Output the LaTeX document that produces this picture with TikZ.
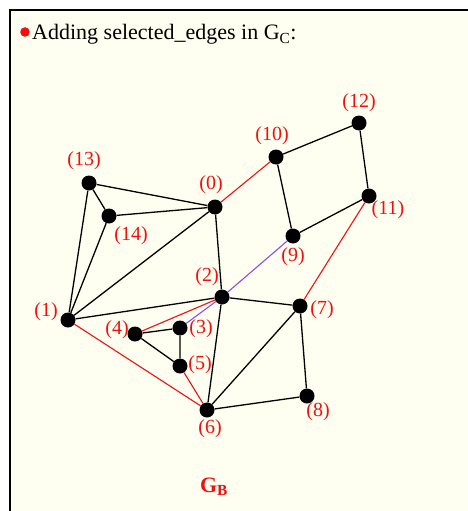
\documentclass[tikz,border=0pt]{standalone}
\usepackage{fontspec}
\setmainfont{Liberation Serif}
\usetikzlibrary{positioning}
\definecolor{PanelFill}{HTML}{FEFFF0}
\definecolor{LabRed}{HTML}{F01010}
\definecolor{EdgePurple}{HTML}{8A4DF0}
\tikzset{
  vdot/.style={circle,fill=black,inner sep=0pt,minimum size=15pt},
  vlabel/.style={text=LabRed,font=\fontsize{20}{20}\selectfont,inner sep=1pt},
  plainedge/.style={line width=1.3pt,draw=black},
  rededge/.style={line width=1.1pt,draw=LabRed},
  violetedge/.style={line width=1.1pt,draw=EdgePurple}
}
\begin{document}
\begin{tikzpicture}[x=1pt,y=-1pt]
\useasboundingbox (0,0) rectangle (468,511);
% panel
\draw[line width=2pt,fill=PanelFill] (10,10) rectangle (480,530);
\fill[LabRed] (25,32) circle (4.8);
\node[anchor=base west,inner sep=0pt,font=\fontsize{22}{22}\selectfont] (title) at (32,40) {Adding selected\_edges in G\textsubscript{C}:};

% vertices
\node[vdot] (v0) at (215,207) {};
\node[vdot] (v1) at (68,320) {};
\node[vdot] (v2) at (222,297) {};
\node[vdot] (v3) at (180,328) {};
\node[vdot] (v4) at (135,334) {};
\node[vdot] (v5) at (180,366) {};
\node[vdot] (v6) at (207,410) {};
\node[vdot] (v7) at (300,306) {};
\node[vdot] (v8) at (307,396) {};
\node[vdot] (v9) at (293,236) {};
\node[vdot] (v10) at (276,157) {};
\node[vdot] (v11) at (369,196) {};
\node[vdot] (v12) at (359,123) {};
\node[vdot] (v13) at (89,183) {};
\node[vdot] (v14) at (109,216) {};

% labels
\node[vlabel] (l0) at (211,185) {(0)};
\node[vlabel] (l1) at (46,312) {(1)};
\node[vlabel] (l2) at (207,277) {(2)};
\node[vlabel] (l3) at (201,329) {(3)};
\node[vlabel] (l4) at (117,330) {(4)};
\node[vlabel] (l5) at (200,365) {(5)};
\node[vlabel] (l6) at (210,429) {(6)};
\node[vlabel] (l7) at (322,310) {(7)};
\node[vlabel] (l8) at (318,412) {(8)};
\node[vlabel] (l9) at (293,257) {(9)};
\node[vlabel] (l10) at (272,136) {(10)};
\node[vlabel] (l11) at (388,210) {(11)};
\node[vlabel] (l12) at (359,103) {(12)};
\node[vlabel] (l13) at (84,161) {(13)};
\node[vlabel] (l14) at (131,236) {(14)};

% edges of G_B
\draw[plainedge] (v13) -- (v0) (v13) -- (v14) (v13) -- (v1) (v14) -- (v0)
  (v14) -- (v1) (v0) -- (v1) (v0) -- (v2) (v1) -- (v2);
\draw[plainedge] (v10) -- (v12) (v12) -- (v11) (v10) -- (v9) (v9) -- (v11);
\draw[plainedge] (v2) -- (v7) (v2) -- (v6) (v7) -- (v6) (v7) -- (v8) (v8) -- (v6);
\draw[plainedge] (v4) -- (v3) (v3) -- (v5) (v4) -- (v5);
% selected edges
\draw[rededge] (v0) -- (v10) (v1) -- (v6) (v4) -- (v2) (v5) -- (v6) (v7) -- (v11);
\draw[violetedge] (v3) -- (v2) (v2) -- (v9);

\node[text=LabRed,font=\fontsize{22}{22}\selectfont\bfseries] (gb) at (214,487) {G\textsubscript{B}};
\end{tikzpicture}
\end{document}
